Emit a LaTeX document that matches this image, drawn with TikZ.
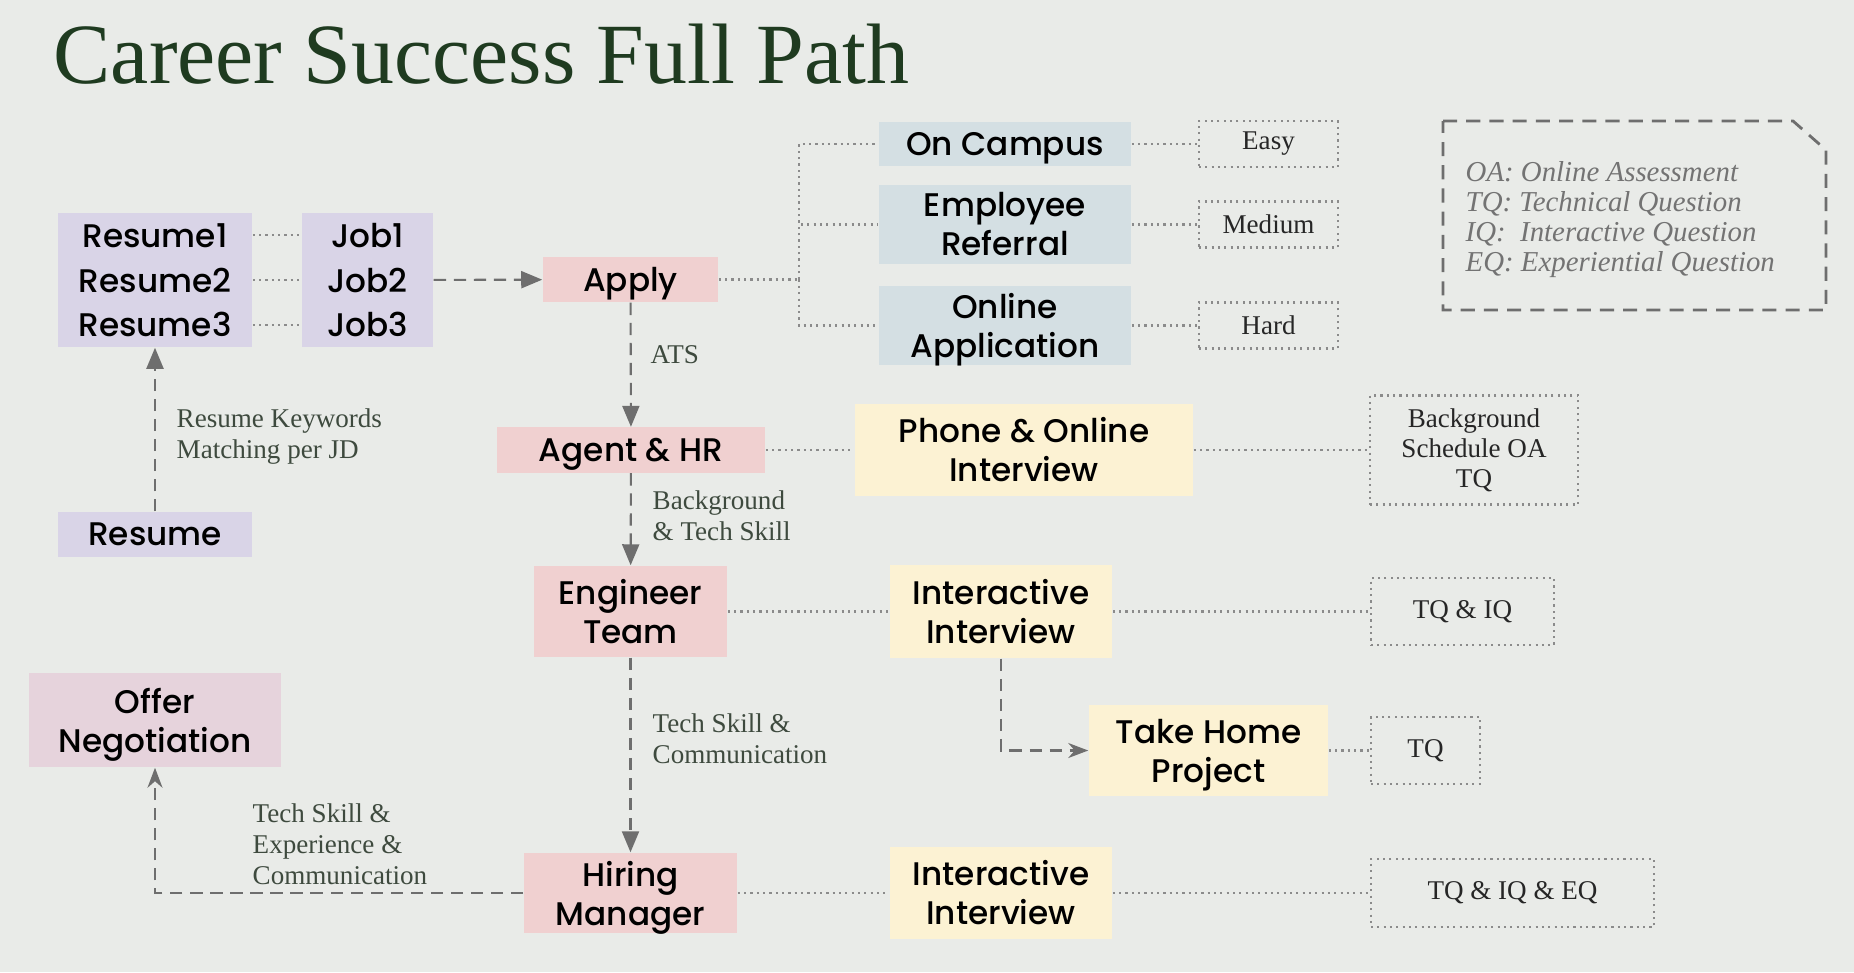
\documentclass[tikz,border=0pt]{standalone}
\usepackage{fontspec}
\IfFontExistsTF{Poppins Medium}{\newfontfamily\boxfont{Poppins Medium}}{\newfontfamily\boxfont{Poppins}}
\newfontfamily\notefont{Liberation Serif}
\usetikzlibrary{arrows.meta}
\definecolor{paper}{HTML}{E9EBE8}
\definecolor{lav}{HTML}{D9D4E7}
\definecolor{rose}{HTML}{F0D0D0}
\definecolor{steel}{HTML}{D4DFE3}
\definecolor{cream}{HTML}{FCF2D3}
\definecolor{mauve}{HTML}{E6D3DC}
\definecolor{ink}{HTML}{1F3B20}
\definecolor{notegreen}{HTML}{3E4A3E}
\definecolor{wire}{HTML}{6E6E6E}
\begin{document}
\begin{tikzpicture}[x=0.01cm,y=-0.01cm,
    box/.style={inner sep=0pt,align=center,text=black,font=\boxfont\fontsize{9.3}{11.1}\selectfont},
    flat/.style={text depth=0pt},
    tag/.style={draw=wire!80,dash pattern=on 0.6pt off 1.2pt,line width=0.6pt,inner sep=0pt,align=center,text=black!85,font=\notefont\fontsize{7.7}{8.5}\selectfont},
    note/.style={anchor=base west,align=left,inner sep=0pt,text=notegreen,font=\notefont\fontsize{7.7}{8.8}\selectfont},
    dotline/.style={draw=wire!80,dash pattern=on 0.6pt off 1.2pt,line width=0.6pt},
    flow/.style={draw=wire,dash pattern=on 3.5pt off 2.2pt,line width=0.6pt}]

      \fill[paper] (0,0) rectangle (1854,972);
      \useasboundingbox (0,0) rectangle (1854,972);

      \node[anchor=base west,inner sep=0pt,text=ink,font=\notefont\fontsize{24.4}{28}\selectfont] (title) at (53,83) {Career Success Full Path};

      \begin{scope}[every node/.style={box,fill=lav,minimum height=0.447cm}]
        \node[minimum width=1.94cm] (res1) at (155,235.3) {Resume1};
        \node[minimum width=1.94cm] (res2) at (155,280) {Resume2};
        \node[minimum width=1.94cm] (res3) at (155,324.7) {Resume3};
        \node[minimum width=1.31cm] (job1) at (367.5,235.3) {Job1};
        \node[minimum width=1.31cm] (job2) at (367.5,280) {Job2};
        \node[minimum width=1.31cm] (job3) at (367.5,324.7) {Job3};
        \node[minimum width=1.94cm,minimum height=0.45cm] (resume) at (155,534.5) {Resume};
      \end{scope}

      \begin{scope}[every node/.style={box,fill=rose}]
        \node[flat,minimum width=1.75cm,minimum height=0.45cm] (apply) at (630.5,279.5) {Apply};
        \node[flat,minimum width=2.68cm,minimum height=0.45cm] (agent) at (631,450) {Agent \& HR};
        \node[minimum width=1.93cm,minimum height=0.91cm] (eng) at (630.5,611.5) {Engineer\\Team};
        \node[flat,minimum width=2.13cm,minimum height=0.80cm] (hiring) at (630.5,893) {Hiring\\Manager};
      \end{scope}
      \node[box,flat,fill=mauve,minimum width=2.52cm,minimum height=0.94cm] (offer) at (155,720) {Offer\\Negotiation};

      \begin{scope}[every node/.style={box,fill=steel,minimum width=2.52cm}]
        \node[flat,minimum height=0.44cm] (campus) at (1005,144) {On Campus};
        \node[minimum height=0.79cm] (referral) at (1005,224.5) {Employee\\Referral};
        \node[flat,minimum height=0.79cm] (online) at (1005,325.5) {Online\\Application};
      \end{scope}

      \begin{scope}[every node/.style={box,fill=cream}]
        \node[minimum width=3.38cm,minimum height=0.91cm] (phone) at (1024,450) {Phone \& Online\\Interview};
        \node[minimum width=2.22cm,minimum height=0.93cm] (inter1) at (1001,611.5) {Interactive\\Interview};
        \node[flat,minimum width=2.39cm,minimum height=0.91cm] (take) at (1208.5,750.5) {Take Home\\Project};
        \node[minimum width=2.22cm,minimum height=0.92cm] (inter2) at (1001,893) {Interactive\\Interview};
      \end{scope}

      \begin{scope}[every node/.style={tag}]
        \node[minimum width=1.39cm,minimum height=0.46cm] (easy) at (1268.5,144) {Easy};
        \node[minimum width=1.39cm,minimum height=0.46cm] (medium) at (1268.5,224.5) {Medium};
        \node[minimum width=1.39cm,minimum height=0.46cm] (hard) at (1268.5,325.5) {Hard};
        \node[minimum width=2.08cm,minimum height=1.09cm] (bgtag) at (1474,450) {Background\\Schedule OA\\TQ};
        \node[minimum width=1.83cm,minimum height=0.67cm] (tqiq) at (1462.5,611.5) {TQ \& IQ};
        \node[minimum width=1.09cm,minimum height=0.67cm] (tq) at (1425.5,750.5) {TQ};
        \node[minimum width=2.83cm,minimum height=0.68cm] (tqiqeq) at (1512.5,893) {TQ \& IQ \& EQ};
      \end{scope}

      \draw[draw=wire,dash pattern=on 4pt off 2.6pt,line width=0.8pt]
        (1443,121) -- (1793,121) -- (1826,150) -- (1826,310) -- (1443,310) -- cycle;
      \node[anchor=base west,align=left,inner sep=0pt,text=black!55,font=\notefont\itshape\fontsize{8.2}{8.5}\selectfont] (legend) at (1465,271)
        {OA: Online Assessment\\TQ: Technical Question\\IQ:~ Interactive Question\\EQ: Experiential Question};

      \coordinate (fork) at (799,279.5);

      \begin{scope}[every edge/.style={dotline}]
        \path (res1) edge (job1);
        \path (res2) edge (job2);
        \path (res3) edge (job3);
        \path (apply) edge (fork);
        \path (fork) edge[to path={|- (\tikztotarget)}] (campus);
        \path (fork) edge[to path={|- (\tikztotarget)}] (referral);
        \path (fork) edge[to path={|- (\tikztotarget)}] (online);
        \path (campus) edge (easy);
        \path (referral) edge (medium);
        \path (online) edge (hard);
        \path (agent) edge (phone);
        \path (phone) edge (bgtag);
        \path (eng) edge (inter1);
        \path (inter1) edge (tqiq);
        \path (take) edge (tq);
        \path (hiring) edge (inter2);
        \path (inter2) edge (tqiqeq);
      \end{scope}

      \begin{scope}[every edge/.style={flow,-{Triangle[length=0.21cm,width=0.17cm]}}]
        \path (job2) edge (apply);
        \path (resume) edge (res3);
        \path (apply) edge (agent);
        \path (agent) edge (eng);
        \path (eng) edge (hiring);
      \end{scope}

      \begin{scope}[every edge/.style={flow,-{Stealth[length=0.2cm,width=0.15cm]}}]
        \path (hiring) edge[to path={-| (\tikztotarget)}] (offer);
        \path (inter1) edge[to path={|- (\tikztotarget)}] (take);
      \end{scope}

      \begin{scope}[every node/.style={note}]
        \node (kw) at (176,458) {Resume Keywords\\Matching per JD};
        \node (ats) at (650,363) {ATS};
        \node (bgskill) at (652,540) {Background\\\& Tech Skill};
        \node (techcomm) at (652,763) {Tech Skill \&\\Communication};
        \node (techexp) at (252,884) {Tech Skill \&\\Experience \&\\Communication};
      \end{scope}

    \end{tikzpicture}
\end{document}
